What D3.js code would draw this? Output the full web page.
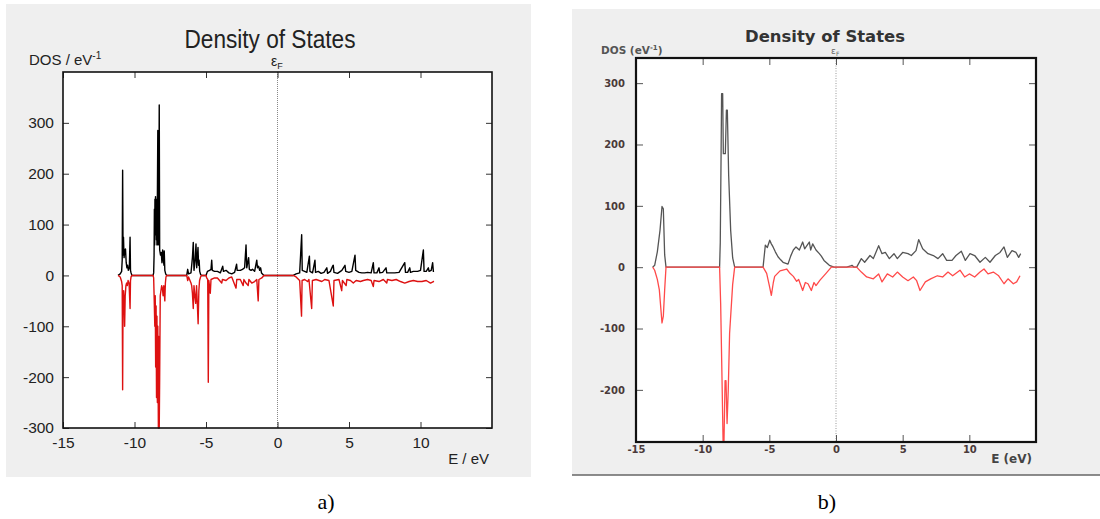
<!DOCTYPE html>
<html>
<head>
<meta charset="utf-8">
<script src="https://cdn.jsdelivr.net/npm/d3@7"></script>
<style>
  body { margin: 0; background: #fff; }
  svg { display: block; }
</style>
</head>
<body>
<svg class="chart"></svg>
<script>
// panel a) : spiky DOS, [E (eV), DOS] pairs
var upA = [
  [-11.15,0],[-11.0,3],[-10.9,8],[-10.86,30],[-10.83,207],[-10.8,40],[-10.77,75],[-10.73,35],[-10.68,50],[-10.63,52],
  [-10.58,25],[-10.53,15],[-10.48,20],[-10.43,10],[-10.36,15],[-10.31,75],[-10.28,10],[-10.24,5],[-10.18,0],
  [-8.7,0],[-8.66,5],[-8.63,40],[-8.61,130],[-8.59,60],[-8.57,150],[-8.55,80],[-8.53,155],[-8.51,90],[-8.49,150],
  [-8.47,70],[-8.45,140],[-8.43,60],[-8.4,150],[-8.37,285],[-8.34,60],[-8.3,120],[-8.27,335],[-8.24,50],[-8.18,40],
  [-8.13,45],[-8.08,25],[-8.03,50],[-7.98,30],[-7.94,20],[-7.92,48],[-7.88,10],[-7.82,3],[-7.75,0],
  [-6.35,0],[-6.28,12],[-6.22,3],[-6.05,5],[-5.95,35],[-5.89,65],[-5.84,10],[-5.76,30],[-5.7,62],[-5.65,15],
  [-5.56,55],[-5.52,20],[-5.48,30],[-5.44,8],[-5.38,2],[-5.3,0],
  [-5.0,0],[-4.9,8],[-4.75,10],[-4.65,12],[-4.6,30],[-4.56,10],[-4.4,8],[-4.2,8],[-4.0,5],[-3.83,18],[-3.78,8],
  [-3.6,10],[-3.4,5],[-3.2,3],[-3.0,6],[-2.86,22],[-2.82,10],[-2.6,10],[-2.45,12],[-2.3,15],[-2.2,60],[-2.15,15],
  [-2.02,35],[-1.97,12],[-1.85,10],[-1.75,12],[-1.6,8],[-1.45,30],[-1.4,15],[-1.32,18],[-1.25,10],[-1.18,15],
  [-1.12,5],[-1.05,3],[-0.95,0],
  [1.1,0],[1.3,3],[1.55,5],[1.69,80],[1.73,10],[1.9,8],[2.05,6],[2.23,38],[2.27,8],[2.45,5],[2.62,30],[2.66,6],
  [2.85,8],[3.05,4],[3.25,6],[3.45,15],[3.5,4],[3.7,8],[3.85,18],[3.9,20],[3.95,6],[4.2,4],[4.5,10],[4.72,20],
  [4.77,8],[5.0,6],[5.2,8],[5.42,40],[5.47,10],[5.7,6],[5.9,5],[6.1,5],[6.3,6],[6.55,5],[6.7,25],[6.75,5],
  [6.95,5],[7.1,15],[7.15,5],[7.35,6],[7.59,15],[7.64,5],[7.9,5],[8.2,5],[8.5,6],[8.9,25],[8.95,6],[9.1,6],
  [9.25,15],[9.3,6],[9.5,8],[9.8,8],[10.0,10],[10.2,50],[10.25,8],[10.4,8],[10.55,15],[10.6,8],[10.75,10],
  [10.85,25],[10.9,8],[10.95,8]
];
var downA = [
  [-11.15,0],[-11.0,-3],[-10.9,-12],[-10.86,-20],[-10.83,-225],[-10.8,-40],[-10.76,-30],[-10.72,-60],[-10.69,-100],
  [-10.65,-40],[-10.6,-20],[-10.55,-15],[-10.5,-20],[-10.45,-10],[-10.38,-15],[-10.31,-65],[-10.28,-10],[-10.24,-3],[-10.18,0],
  [-8.7,0],[-8.66,-5],[-8.62,-50],[-8.58,-100],[-8.55,-40],[-8.52,-180],[-8.49,-60],[-8.46,-240],[-8.43,-80],
  [-8.4,-250],[-8.37,-100],[-8.33,-300],[-8.3,-120],[-8.27,-300],[-8.24,-200],[-8.2,-40],[-8.15,-30],[-8.1,-20],
  [-8.05,-25],[-8.0,-40],[-7.95,-20],[-7.88,-50],[-7.84,-15],[-7.8,-3],[-7.75,0],
  [-6.35,0],[-6.28,-10],[-6.22,-3],[-6.05,-15],[-6.0,-20],[-5.95,-35],[-5.89,-65],[-5.84,-20],[-5.78,-40],
  [-5.72,-55],[-5.66,-20],[-5.6,-60],[-5.55,-95],[-5.5,-30],[-5.45,-10],[-5.38,-3],[-5.3,0],
  [-5.0,0],[-4.95,-5],[-4.88,-8],[-4.84,-210],[-4.8,-10],[-4.7,-35],[-4.65,-8],[-4.4,-5],[-4.2,-5],[-3.9,-15],
  [-3.85,-8],[-3.6,-10],[-3.4,-5],[-3.2,-3],[-2.9,-25],[-2.85,-8],[-2.6,-8],[-2.4,-20],[-2.35,-8],[-2.2,-15],
  [-2.05,-20],[-2.0,-8],[-1.8,-15],[-1.6,-12],[-1.45,-8],[-1.35,-50],[-1.3,-8],[-1.1,-5],[-0.95,0],
  [1.1,0],[1.3,-3],[1.55,-10],[1.68,-80],[1.72,-10],[1.9,-8],[2.1,-12],[2.2,-8],[2.39,-65],[2.44,-10],[2.7,-8],
  [2.9,-10],[3.1,-12],[3.3,-8],[3.6,-10],[3.9,-60],[3.95,-10],[4.3,-8],[4.49,-30],[4.54,-10],[4.8,-20],[4.85,-8],
  [5.1,-10],[5.3,-15],[5.5,-10],[5.8,-12],[6.0,-10],[6.3,-8],[6.55,-10],[6.7,-22],[6.75,-10],[7.1,-12],[7.4,-8],
  [7.64,-15],[7.69,-8],[8.0,-10],[8.3,-8],[8.6,-12],[8.9,-15],[9.2,-12],[9.5,-10],[9.8,-12],[10.1,-12],[10.4,-10],
  [10.7,-15],[10.9,-12],[10.95,-12]
];

// panel b) : smoothed DOS
var upB = [
  [-13.75,0],[-13.6,3],[-13.4,25],[-13.2,60],[-13.05,99],[-12.95,95],[-12.85,20],[-12.75,0],
  [-8.73,0],[-8.68,40],[-8.62,180],[-8.58,283],[-8.5,283],[-8.45,185],[-8.3,185],[-8.22,256],[-8.15,256],
  [-8.05,150],[-7.9,60],[-7.75,15],[-7.6,0],
  [-5.47,0],[-5.3,36],[-5.15,32],[-4.97,44],[-4.85,38],[-4.72,33],[-4.55,25],[-4.35,17],[-4.15,12],[-3.97,8],
  [-3.6,5],[-3.4,18],[-3.2,28],[-3.0,33],[-2.75,28],[-2.5,41],[-2.35,30],[-2.25,33],[-2.0,41],[-1.9,28],
  [-1.75,38],[-1.5,28],[-1.25,22],[-1.1,18],[-0.9,11],[-0.5,3],[-0.15,0],
  [0.8,0],[1.1,2],[1.2,3],[1.35,0],[1.55,0],[1.9,14],[2.15,8],[2.55,19],[2.8,14],[3.2,35],[3.45,22],[3.7,24],
  [4.0,14],[4.35,22],[4.6,14],[5.0,24],[5.4,22],[5.65,19],[6.0,27],[6.2,45],[6.5,30],[6.9,22],[7.3,19],
  [7.65,14],[8.0,22],[8.3,11],[8.7,11],[9.0,19],[9.4,26],[9.7,11],[10.05,22],[10.4,19],[10.8,8],[11.2,16],
  [11.55,8],[11.95,19],[12.3,24],[12.6,33],[12.85,16],[13.2,27],[13.5,24],[13.7,16],[13.85,22]
];
var downB = [
  [-13.75,0],[-13.6,-5],[-13.4,-20],[-13.25,-37],[-13.05,-91],[-12.95,-80],[-12.85,-37],[-12.75,0],
  [-8.73,0],[-8.65,-60],[-8.55,-181],[-8.47,-283],[-8.4,-283],[-8.32,-185],[-8.25,-185],[-8.17,-255],[-8.08,-200],
  [-7.98,-108],[-7.75,-28],[-7.6,0],
  [-5.47,0],[-5.2,-10],[-5.0,-30],[-4.85,-46],[-4.7,-25],[-4.6,-15],[-4.2,-6],[-3.7,-3],[-3.45,-10],[-3.2,-15],
  [-2.95,-23],[-2.8,-20],[-2.5,-38],[-2.3,-25],[-2.1,-27],[-1.85,-38],[-1.65,-25],[-1.5,-30],[-1.2,-21],
  [-0.75,-10],[-0.35,0],
  [1.55,0],[1.9,-8],[2.3,-16],[2.8,-19],[3.2,-11],[3.45,-24],[3.85,-11],[4.25,-16],[4.6,-8],[5.0,-16],[5.4,-22],
  [5.8,-16],[6.05,-22],[6.3,-38],[6.7,-24],[7.1,-19],[7.6,-14],[8.0,-16],[8.4,-8],[8.75,-14],[9.3,-5],
  [9.65,-16],[10.0,-11],[10.4,-16],[10.8,-8],[11.1,-3],[11.4,-11],[11.8,-8],[12.2,-14],[12.6,-27],[12.9,-19],
  [13.3,-27],[13.55,-24],[13.8,-14]
];

var xTicks = [-15, -10, -5, 0, 5, 10];
var yTicksA = [-300, -200, -100, 0, 100, 200, 300];
var yTicksB = [-200, -100, 0, 100, 200, 300];

const canvas = {width: 1100, height: 519};

var svg = d3.select(".chart")
    .attr("width", canvas.width)
    .attr("height", canvas.height);

svg.append("rect").attr("width", canvas.width).attr("height", canvas.height).attr("fill", "#fff");

// plain hyphen minus like the original plots
var plainFormat = function (d) { return String(d); };

function drawPanel(p) {
    var g = svg.append("g");

    g.append("rect")
        .attr("x", p.bg[0]).attr("y", p.bg[1])
        .attr("width", p.bg[2]).attr("height", p.bg[3])
        .attr("fill", "#efefef");

    var x = d3.scaleLinear().domain([-15, 15]).range([p.left, p.right]);
    var y = d3.scaleLinear().domain(p.yDomain).range([p.bottom, p.top]);

    g.append("rect")
        .attr("x", p.left).attr("y", p.top)
        .attr("width", p.right - p.left).attr("height", p.bottom - p.top)
        .attr("fill", "#fff");

    // fermi level
    g.append("line")
        .attr("x1", x(0)).attr("x2", x(0))
        .attr("y1", p.top).attr("y2", p.bottom)
        .attr("stroke", p.fermiColor).attr("stroke-width", 1)
        .attr("stroke-dasharray", p.fermiDash);

    var line = d3.line()
        .x(function (d) { return x(d[0]); })
        .y(function (d) { return y(d[1]); });

    g.append("path").datum(p.up)
        .attr("d", line).attr("fill", "none")
        .attr("stroke", p.upColor).attr("stroke-width", p.lineWidth)
        .attr("stroke-linejoin", "round");
    g.append("path").datum(p.down)
        .attr("d", line).attr("fill", "none")
        .attr("stroke", p.downColor).attr("stroke-width", p.lineWidth)
        .attr("stroke-linejoin", "round");

    function styleAxis(sel, labels) {
        sel.select(".domain").remove();
        sel.selectAll(".tick line").attr("stroke", p.tickColor);
        sel.selectAll(".tick text")
            .attr("fill", p.labelColor)
            .style("font-family", p.font)
            .style("font-size", p.tickFont + "px")
            .style("font-weight", p.tickWeight);
        if (!labels) sel.selectAll(".tick text").remove();
    }

    g.append("g").attr("transform", "translate(0," + p.bottom + ")")
        .call(d3.axisBottom(x).tickValues(xTicks).tickFormat(plainFormat).tickSize(-p.tick).tickPadding(p.xPad))
        .call(styleAxis, true);
    g.append("g").attr("transform", "translate(0," + p.top + ")")
        .call(d3.axisTop(x).tickValues(xTicks).tickSize(-p.tick))
        .call(styleAxis, false);
    g.append("g").attr("transform", "translate(" + p.left + ",0)")
        .call(d3.axisLeft(y).tickValues(p.yTicks).tickFormat(plainFormat).tickSize(-p.tick).tickPadding(p.yPad))
        .call(styleAxis, true);
    g.append("g").attr("transform", "translate(" + p.right + ",0)")
        .call(d3.axisRight(y).tickValues(p.yTicks).tickSize(-p.tick))
        .call(styleAxis, false);

    g.append("rect")
        .attr("x", p.left).attr("y", p.top)
        .attr("width", p.right - p.left).attr("height", p.bottom - p.top)
        .attr("fill", "none").attr("stroke", "#111").attr("stroke-width", p.frameWidth);

    return {g: g, x: x, y: y};
}

// ---- panel a
var pa = drawPanel({
    bg: [6, 4, 525, 473],
    left: 63, right: 492, top: 72, bottom: 428,
    yDomain: [-300, 400], yTicks: yTicksA,
    up: upA, down: downA,
    upColor: "#000", downColor: "#dd1111", lineWidth: 1.4,
    fermiColor: "#888", fermiDash: "1,1",
    tick: 6, tickColor: "#333", frameWidth: 1.6,
    font: "'Liberation Sans', Arial, sans-serif", tickFont: 15.5, tickWeight: "normal",
    labelColor: "#222", xPad: 9, yPad: 9
});

pa.g.append("text").attr("x", 270).attr("y", 48)
    .attr("text-anchor", "middle")
    .attr("textLength", 171).attr("lengthAdjust", "spacingAndGlyphs")
    .style("font-family", "'Liberation Sans', Arial, sans-serif").style("font-size", "25px")
    .attr("fill", "#222").text("Density of States");

var dosA = pa.g.append("text").attr("x", 29).attr("y", 65)
    .style("font-family", "'Liberation Sans', Arial, sans-serif").style("font-size", "15px")
    .attr("fill", "#222");
dosA.append("tspan").text("DOS / eV");
dosA.append("tspan").attr("dy", -6).style("font-size", "10px").text("-1");

var efA = pa.g.append("text").attr("x", 271).attr("y", 66)
    .style("font-family", "'Liberation Sans', Arial, sans-serif").style("font-size", "14px")
    .attr("fill", "#222");
efA.append("tspan").text("ε");
efA.append("tspan").attr("dy", 3).style("font-size", "9px").text("F");

pa.g.append("text").attr("x", 489).attr("y", 464).attr("text-anchor", "end")
    .style("font-family", "'Liberation Sans', Arial, sans-serif").style("font-size", "15px")
    .attr("fill", "#222").text("E / eV");

// ---- panel b
var pb = drawPanel({
    bg: [572, 9, 528, 466],
    left: 636, right: 1036, top: 58, bottom: 442,
    yDomain: [-285, 341], yTicks: yTicksB,
    up: upB, down: downB,
    upColor: "#555", downColor: "#ff4a4a", lineWidth: 1.3,
    fermiColor: "#999", fermiDash: "1,1.5",
    tick: 7, tickColor: "#555", frameWidth: 2.2,
    font: "'DejaVu Sans', Verdana, sans-serif", tickFont: 10, tickWeight: "bold",
    labelColor: "#4a3a3a", xPad: 4, yPad: 11
});

svg.append("line").attr("x1", 572).attr("x2", 1100).attr("y1", 475).attr("y2", 475)
    .attr("stroke", "#666").attr("stroke-width", 1.5);

pb.g.append("text").attr("x", 825).attr("y", 42)
    .attr("text-anchor", "middle")
    .attr("textLength", 160).attr("lengthAdjust", "spacingAndGlyphs")
    .style("font-family", "'DejaVu Sans', Verdana, sans-serif").style("font-size", "15px")
    .style("font-weight", "bold").attr("fill", "#333").text("Density of States");

var dosB = pb.g.append("text").attr("x", 601).attr("y", 54)
    .style("font-family", "'DejaVu Sans', Verdana, sans-serif").style("font-size", "10.5px")
    .style("font-weight", "bold").attr("fill", "#555");
dosB.append("tspan").text("DOS (eV");
dosB.append("tspan").attr("dy", -4).style("font-size", "7px").text("-1");
dosB.append("tspan").attr("dy", 4).text(")");

var efB = pb.g.append("text").attr("x", 831).attr("y", 54)
    .style("font-family", "'DejaVu Sans', Verdana, sans-serif").style("font-size", "9px")
    .attr("fill", "#666");
efB.append("tspan").text("ε");
efB.append("tspan").attr("dy", 2).style("font-size", "6px").text("F");

pb.g.append("text").attr("x", 1032).attr("y", 463).attr("text-anchor", "end")
    .style("font-family", "'DejaVu Sans', Verdana, sans-serif").style("font-size", "12px")
    .style("font-weight", "bold").attr("fill", "#444").text("E (eV)");

// ---- captions
svg.append("text").attr("x", 326).attr("y", 509).attr("text-anchor", "middle")
    .style("font-family", "'Liberation Serif', 'Times New Roman', serif").style("font-size", "22px")
    .attr("fill", "#000").text("a)");
svg.append("text").attr("x", 827).attr("y", 509).attr("text-anchor", "middle")
    .style("font-family", "'Liberation Serif', 'Times New Roman', serif").style("font-size", "22px")
    .attr("fill", "#000").text("b)");
</script>
</body>
</html>
